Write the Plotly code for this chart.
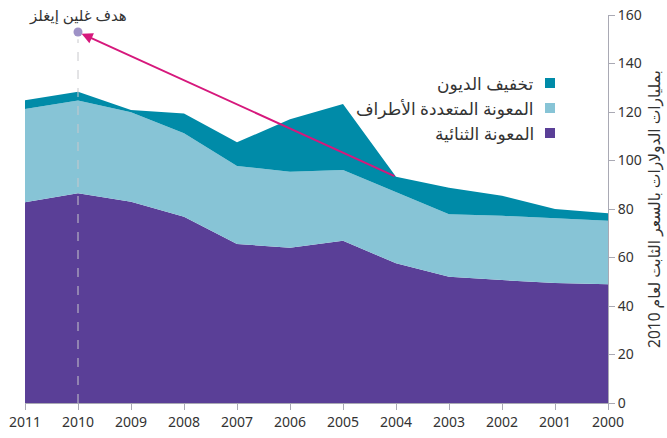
import plotly.graph_objects as go

# Aid flows, billions of constant 2010 dollars
years = [2011, 2010, 2009, 2008, 2007, 2006, 2005, 2004, 2003, 2002, 2001, 2000]
bilateral = [82.8, 86.5, 83.0, 76.8, 65.6, 64.0, 66.9, 57.6, 52.1, 50.7, 49.5, 49.0]
multilateral = [38.4, 38.2, 36.9, 34.4, 32.1, 31.4, 29.2, 29.5, 25.7, 26.5, 26.7, 26.2]
debt_relief = [3.6, 3.7, 0.9, 8.2, 9.8, 21.6, 27.2, 6.2, 11.0, 8.3, 3.8, 3.0]

target_year = 2010
target_value = 153
arrow_from_year = 2004

series_names = ["المعونة الثنائية", "المعونة المتعددة الأطراف", "تخفيف الديون"]
series_colors = ["#5a3f97", "#87c4d6", "#008ba8"]
target_label = "هدف غلين إيغلز"
y_title = "بمليارات الدولارات بالسعر الثابت لعام 2010"
y_ticks = [0, 20, 40, 60, 80, 100, 120, 140, 160]

FONT = "Noto Sans, DejaVu Sans, sans-serif"
AXIS_GREY = "#a9a9b4"
TEXT = "#333333"

fig = go.Figure()
for name, vals, col in zip(series_names, [bilateral, multilateral, debt_relief], series_colors):
    fig.add_trace(go.Scatter(
        x=years, y=vals, name=name, mode="lines", stackgroup="aid",
        line=dict(width=0, color=col), fillcolor=col, showlegend=False,
        hoverinfo="skip",
    ))

# Gleneagles target point
fig.add_trace(go.Scatter(
    x=[target_year], y=[target_value], mode="markers",
    marker=dict(size=9, color="#9e92c7"), showlegend=False, hoverinfo="skip",
))

# dashed guide from the target down to zero
fig.add_shape(type="line", x0=target_year, x1=target_year, y0=0, y1=target_value - 3,
              xref="x", yref="y", layer="above",
              line=dict(color="#c8c8cc", width=1, dash="dash"))

i04 = years.index(arrow_from_year)
start_total = bilateral[i04] + multilateral[i04] + debt_relief[i04]
fig.add_annotation(x=target_year, y=target_value, ax=arrow_from_year, ay=start_total,
                   xref="x", yref="y", axref="x", ayref="y", text="",
                   showarrow=True, arrowhead=2, arrowsize=1.1, arrowwidth=2,
                   arrowcolor="#d6187c", standoff=4)

fig.add_annotation(x=target_year, y=160, xref="x", yref="y", text=target_label,
                   showarrow=False, yanchor="middle",
                   font=dict(family=FONT, size=15, color=TEXT))

# right-to-left legend: label text with its swatch on the right
PL, PR, PT, PB = 25, 608, 15, 403
def px_x(px):
    return (px - PL) / (PR - PL)
def px_y(py):
    return (PB - py) / (PB - PT)

legend_rows = [(series_names[2], series_colors[2], 83),
               (series_names[1], series_colors[1], 108),
               (series_names[0], series_colors[0], 133)]
for text, col, cy in legend_rows:
    fig.add_shape(type="rect", xref="paper", yref="paper",
                  x0=px_x(545), x1=px_x(555), y0=px_y(cy + 5), y1=px_y(cy - 5),
                  fillcolor=col, line=dict(width=0))
    fig.add_annotation(x=px_x(536), y=px_y(cy), xref="paper", yref="paper",
                       text=text, showarrow=False, xanchor="right", yanchor="middle",
                       font=dict(family=FONT, size=17, color=TEXT))

fig.update_layout(
    width=667, height=438,
    margin=dict(l=PL, r=667 - PR, t=PT, b=438 - PB, autoexpand=False),
    plot_bgcolor="white", paper_bgcolor="white",
    font=dict(family=FONT, size=14, color=TEXT),
    xaxis=dict(range=[2011, 2000], tickmode="array", tickvals=years,
               ticktext=[str(y) for y in years], showgrid=False, zeroline=False,
               automargin=False,
               showline=True, linecolor=AXIS_GREY, linewidth=1,
               ticks="outside", ticklen=6, tickcolor=AXIS_GREY,
               tickfont=dict(family=FONT, size=14, color=TEXT)),
    yaxis=dict(range=[0, 160], side="right", tickvals=y_ticks, showgrid=False,
               zeroline=False, showline=True, linecolor=AXIS_GREY, linewidth=1,
               automargin=False,
               ticks="outside", ticklen=6, tickcolor=AXIS_GREY,
               tickfont=dict(family=FONT, size=14, color=TEXT),
               title=dict(text=y_title, standoff=8,
                          font=dict(family=FONT, size=15.5, color=TEXT))),
)

fig.write_html("out.html")
